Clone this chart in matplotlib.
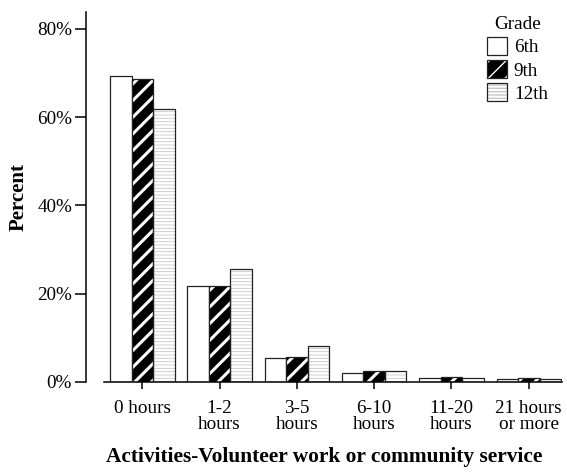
import matplotlib.pyplot as plt
import numpy as np
from matplotlib.patches import Patch
from matplotlib.legend_handler import HandlerTuple

plt.rcParams['font.family'] = ['Liberation Serif', 'DejaVu Serif']

categories = ['0 hours', '1-2\nhours', '3-5\nhours', '6-10\nhours', '11-20\nhours', '21 hours\nor more']
grades = ['6th', '9th', '12th']
pct_6th = [69.2, 21.8, 5.4, 2.0, 0.9, 0.7]
pct_9th = [68.6, 21.7, 5.7, 2.4, 1.1, 0.8]
pct_12th = [61.9, 25.6, 8.1, 2.6, 1.0, 0.7]
yticks = [0, 20, 40, 60, 80]

EDGE = '#222222'
STRIPE = dict(facecolor='black', edgecolor='white', hatch='//', linewidth=0)
LINES = dict(facecolor='white', edgecolor='#c8c8c8', hatch='-----', linewidth=0)


def hatch_lw(patches, lw):
    for p in patches:
        if hasattr(p, 'set_hatch_linewidth'):
            p.set_hatch_linewidth(lw)


fig = plt.figure(figsize=(5.67, 4.75), dpi=100)
ax = fig.add_axes([86 / 567, 1 - 382 / 475, (562 - 86) / 567, (382 - 12) / 475])

x = np.arange(len(categories))
w = 0.278

# 6th: plain white
ax.bar(x - w, pct_6th, w, color='white', edgecolor=EDGE, linewidth=0.9, zorder=2)
# 9th: black with white diagonal stripes
with plt.rc_context({'hatch.linewidth': 2.2}):
    b9 = ax.bar(x, pct_9th, w, zorder=2, **STRIPE)
hatch_lw(b9, 2.2)
ax.bar(x, pct_9th, w, fill=False, edgecolor=EDGE, linewidth=0.9, zorder=3)
# 12th: light grey fine horizontal lines
with plt.rc_context({'hatch.linewidth': 0.6}):
    b12 = ax.bar(x + w, pct_12th, w, zorder=2, **LINES)
hatch_lw(b12, 0.6)
ax.bar(x + w, pct_12th, w, fill=False, edgecolor=EDGE, linewidth=0.9, zorder=3)

ax.set_xlim(-0.728, 5.43)
ax.set_ylim(0, 83.8)
ax.set_xticks(x)
ax.set_xticklabels(categories, fontsize=13.8, linespacing=0.92)
ax.set_yticks(yticks)
ax.set_yticklabels([f'{v}%' for v in yticks], fontsize=13.8)

for s in ['top', 'right']:
    ax.spines[s].set_visible(False)
ax.spines['left'].set_linewidth(1.1)
ax.spines['bottom'].set_linewidth(1.1)
ax.spines['bottom'].set_bounds(-0.495, 5.43)
ax.tick_params(axis='y', direction='out', length=8, width=1.1, pad=2)
ax.tick_params(axis='x', direction='out', length=5, width=1.1, pad=8)

ax.set_ylabel('Percent', fontsize=15, fontweight='bold', labelpad=6)
ax.set_xlabel('Activities-Volunteer work or community service', fontsize=15.4,
              fontweight='bold', labelpad=10)

# legend: hatched swatch with a dark border drawn on top
border = dict(fill=False, edgecolor=EDGE, linewidth=0.9)
h6 = Patch(facecolor='white', edgecolor=EDGE, linewidth=0.9)
with plt.rc_context({'hatch.linewidth': 2.2}):
    h9 = Patch(**STRIPE)
hatch_lw([h9], 2.2)
with plt.rc_context({'hatch.linewidth': 0.6}):
    h12 = Patch(**LINES)
hatch_lw([h12], 0.6)
handles = [h6, (h9, Patch(**border)), (h12, Patch(**border))]
leg = fig.legend(handles, grades, title='Grade', loc='upper left',
                 bbox_to_anchor=(487 / 567, 1 - 16 / 475), bbox_transform=fig.transFigure,
                 frameon=False, fontsize=13.8, title_fontsize=13.8,
                 handlelength=1.05, handleheight=1.05, handletextpad=0.35,
                 labelspacing=0.2, borderpad=0, borderaxespad=0,
                 handler_map={tuple: HandlerTuple(ndivide=1, pad=0)})

fig.savefig('out.png', dpi=100)
